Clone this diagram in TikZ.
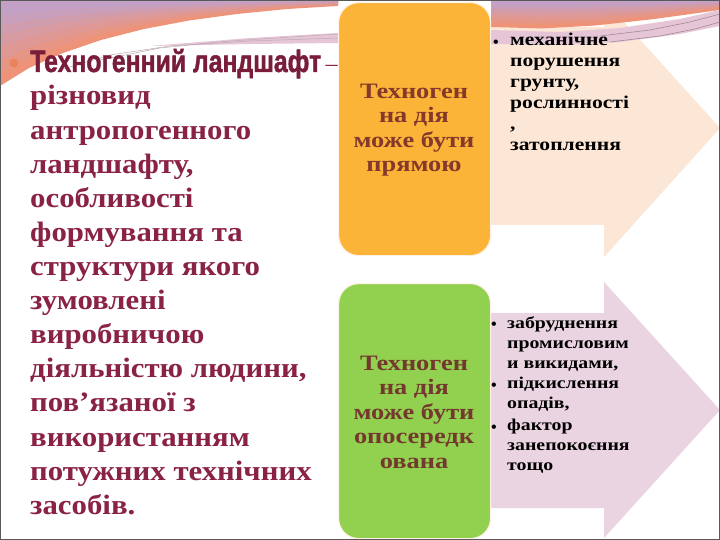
\documentclass[tikz,border=0pt]{standalone}
\usepackage{fontspec}
\usepackage{graphicx}
\setmainfont{Liberation Serif}
\newfontfamily\wideserif[FakeStretch=1.2]{Liberation Serif}
\newfontfamily\bodyserif[FakeStretch=1.1]{Liberation Serif}
\newfontfamily\titlefont[FakeBold=1.6]{Liberation Sans}
\definecolor{maroon}{HTML}{8A2246}
\definecolor{titlecol}{HTML}{7A1D3B}
\definecolor{boxtext}{HTML}{84392B}
\definecolor{greentext}{HTML}{74392E}
\definecolor{orangebox}{HTML}{FBB437}
\definecolor{greenbox}{HTML}{92D050}
\definecolor{peach}{HTML}{FCE6D5}
\definecolor{pinkarr}{HTML}{EBD4E1}
\definecolor{bandtop}{HTML}{C0A2CB}
\definecolor{bandbot}{HTML}{EE9378}
\definecolor{stripe}{HTML}{E6C6D6}
\definecolor{dotcol}{HTML}{E8835C}
\tikzset{
  roundbox/.style={rounded corners=20pt, draw=white!90!orange, line width=1.2pt},
  bodyline/.style={anchor=base west, inner sep=0pt, text=maroon, font=\bodyserif\fontsize{28}{34}\selectfont\bfseries},
  boxlabel/.style={align=center, inner sep=0pt, font=\wideserif\fontsize{22}{24.5}\selectfont\bfseries},
  listtext/.style={align=left, anchor=north west, inner sep=0pt, text=black},
  bulletdot/.style={inner sep=0pt, text=black, font=\fontsize{16}{16}\selectfont\bfseries}
}
\begin{document}
\begin{tikzpicture}[x=1pt,y=-1pt]
\useasboundingbox (0,0) rectangle (720,540);
\fill[white] (0,0) rectangle (720,540);
% arrows
\fill[peach] (480,27) -- (604,27) -- (604,0) -- (720,128) -- (604,257) -- (604,225) -- (480,225) -- cycle;
\fill[pinkarr] (480,313) -- (604,313) -- (604,282) -- (720,410) -- (604,538) -- (604,508) -- (480,508) -- cycle;
% top decorative band as polylines; nested layers give the gradient
\foreach \s/\p in {1/100, 0.85/85, 0.7/68, 0.55/50, 0.42/34, 0.3/18, 0.18/6}{
  \fill[bandbot!\p!bandtop] (0,0) -- (338,0) -- (338,{6*\s}) -- (287,{9*\s}) -- (237,{14*\s})
    -- (189,{20.5*\s}) -- (144,{29*\s}) -- (101,{40*\s}) -- (63,{53*\s}) -- (29,{68*\s})
    -- (0,{86*\s}) -- cycle;
  \fill[bandbot!\p!bandtop] (491,0) -- (720,0) -- (720,{10*\s}) -- (652,{19.3*\s})
    -- (594,{25.6*\s}) -- (542,{28.4*\s}) -- (491,{27*\s}) -- cycle;
}
% pink stripe and fine lines (straight segments)
\fill[stripe] (150,46) -- (250,38) -- (338,33) -- (338,43) -- (250,44) -- cycle;
\fill[stripe] (491,30) -- (560,32) -- (620,28) -- (680,19) -- (720,10) -- (720,26)
  -- (680,34) -- (620,42) -- (560,45) -- (491,44) -- cycle;
\draw[stripe!60!gray, line width=0.5pt] (60,70) -- (110,55) -- (170,46) -- (250,41) -- (338,38);
\draw[stripe!60!gray, line width=0.5pt] (100,60) -- (160,48) -- (230,41) -- (338,34);
\draw[stripe!70!black, line width=0.6pt] (600,36) -- (650,30) -- (690,22) -- (720,14);
\draw[stripe!70!black, line width=0.6pt] (610,42) -- (660,36) -- (695,29) -- (720,22);
% boxes
\node[roundbox, fill=orangebox, minimum width=152pt, minimum height=253pt, anchor=north west] (obox) at (338,2) {};
\node[roundbox, fill=greenbox, minimum width=152pt, minimum height=255pt, anchor=north west] (gbox) at (338,283) {};
\node[boxlabel, text=boxtext] (otext) at (414,130) {Техноген\\на дія\\може бути\\прямою};
\node[boxlabel, text=greentext] (gtext) at (414,412) {Техноген\\на дія\\може бути\\опосередк\\ована};
% top list
\node[bulletdot] (b1) at (496,44) {•};
\node[listtext, font=\wideserif\fontsize{18}{21}\selectfont\bfseries] (t1) at (510,33) {механічне\\порушення\\грунту,\\рослинності\\,\\затоплення};
% bottom list
\node[bulletdot] (b2) at (494,326) {•};
\node[bulletdot] (b3) at (494,387) {•};
\node[bulletdot] (b4) at (494,429) {•};
\node[listtext, font=\wideserif\fontsize{16.5}{20}\selectfont\bfseries] (t2) at (507,316) {забруднення\\промисловим\\и викидами,};
\node[listtext, font=\wideserif\fontsize{16.5}{20}\selectfont\bfseries] (t3) at (507,377) {підкислення\\опадів,};
\node[listtext, font=\wideserif\fontsize{16.5}{20}\selectfont\bfseries] (t4) at (507,419) {фактор\\занепокоєння\\тощо};
% body text
\foreach \t [count=\i] in {різновид, антропогенного, {ландшафту,}, особливості, формування та,
  структури якого, зумовлені, виробничою, {діяльністю людини,}, пов’язаної з, використанням,
  потужних технічних, засобів.}{
  \node[bodyline] (line\i) at (30,{105+34.1*(\i-1)}) {\t};
}
% title line
\fill[dotcol] (14,63) circle (4.5pt);
\node[anchor=base west, inner sep=0pt, text=titlecol] (title) at (30,72)
  {\scalebox{0.8}[1.0]{\titlefont\fontsize{31}{34}\selectfont\bfseries Техногенний ландшафт}};
\node[anchor=base west, inner sep=0pt, text=maroon, font=\fontsize{24}{30}\selectfont] (dash) at (title.base east) {\,–};
% slide border
\draw[gray!70!black, line width=1.2pt] (0.6,0.6) rectangle (719.4,539.4);
\end{tikzpicture}
\end{document}
